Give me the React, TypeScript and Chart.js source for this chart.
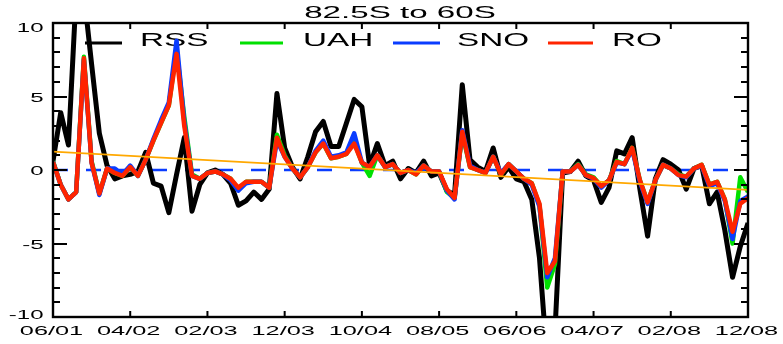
import React, { useEffect, useRef } from 'react';
import { Chart, registerables } from 'chart.js';

Chart.register(...registerables);

const TITLE = '82.5S to 60S';
const seriesNames = ['RSS', 'UAH', 'SNO', 'RO'];
const seriesColors = ['#000000', '#00e000', '#0a3cff', '#ff2400'];

// monthly index 0 = 06/2001 ... 90 = 12/2008
const xTickMonths = [0, 10, 20, 30, 40, 50, 60, 70, 80, 90];
const xTickLabels = ['06/01', '04/02', '02/03', '12/03', '10/04', '08/05', '06/06', '04/07', '02/08', '12/08'];
const yTickLabels = [-10, -5, 0, 5, 10];

const rss = [
  0.6, 3.9, 1.7, 12, 12, 7.2, 2.5, 0.3, -0.6, -0.4,
  -0.3, -0.1, 1.2, -0.9, -1.1, -2.9, -0.3, 2.2, -2.8, -1.0,
  -0.2, 0.0, -0.3, -0.9, -2.4, -2.1, -1.5, -2.0, -1.3, 5.2,
  1.5, 0.2, -0.6, 0.9, 2.6, 3.3, 1.6, 1.6, 3.2, 4.8,
  4.3, 0.3, 1.8, 0.3, 0.6, -0.6, 0.1, -0.2, 0.6, -0.4,
  -0.2, -1.4, -1.7, 5.8, 0.7, 0.2, -0.1, 1.5, -0.5, 0.2,
  -0.6, -0.8, -2.0, -6.0, -13, -11, -0.2, -0.1, 0.6, -0.4,
  -0.7, -2.2, -1.2, 1.3, 1.1, 2.2, -1.3, -4.5, -0.6, 0.7,
  0.4, 0.0, -1.3, 0.1, 0.3, -2.3, -1.5, -4.1, -7.3, -5.2,
  -3.6,
];

const uah = [
  0.6, -1.0, -2.0, -1.5, 7.7, 0.6, -1.6, 0.1, -0.2, -0.4,
  0.2, -0.4, 0.7, 2.0, 3.2, 4.4, 8.2, 3.6, -0.3, -0.6,
  -0.2, -0.1, -0.3, -0.6, -1.3, -0.8, -0.8, -0.8, -1.2, 2.4,
  1.0, 0.1, -0.5, 0.2, 1.2, 1.8, 0.8, 0.9, 1.1, 1.9,
  0.5, -0.4, 1.0, 0.2, 0.4, -0.2, 0.0, -0.3, 0.3, -0.1,
  -0.1, -1.5, -1.9, 2.5, 0.2, 0.0, -0.2, 0.9, -0.3, 0.4,
  -0.1, -0.6, -0.9, -2.4, -8.0, -6.4, -0.1, -0.1, 0.4, -0.3,
  -0.5, -1.1, -0.7, 0.6, 0.4, 1.5, -0.7, -2.2, -0.7, 0.35,
  0.1, -0.3, -0.45, 0.1, 0.35, -1.0, -0.8, -2.0, -5.0, -0.5,
  -1.5,
];

const sno = [
  0.55, -1.0, -2.0, -1.5, 7.5, 0.5, -1.7, 0.1, 0.1, -0.3,
  0.3, -0.4, 0.7, 2.1, 3.4, 4.6, 8.8, 3.3, -0.4, -0.6,
  -0.2, -0.1, -0.3, -0.7, -1.4, -0.9, -0.8, -0.8, -1.2, 2.0,
  0.9, 0.1, -0.5, 0.2, 1.3, 2.0, 0.9, 1.0, 1.2, 2.5,
  0.5, 0.2, 1.0, 0.2, 0.4, -0.2, 0.0, -0.2, 0.3, -0.1,
  -0.1, -1.4, -2.0, 2.7, 0.3, 0.0, -0.2, 0.9, -0.2, 0.4,
  -0.1, -0.6, -1.0, -2.5, -7.3, -6.0, -0.1, -0.1, 0.35, -0.35,
  -0.6, -1.2, -0.7, 0.5, 0.4, 1.4, -0.8, -2.3, -0.7, 0.35,
  0.1, -0.35, -0.5, 0.1, 0.3, -1.1, -0.9, -2.1, -4.7, -2.1,
  -1.8,
];

const ro = [
  0.55, -1.0, -2.0, -1.5, 7.6, 0.5, -1.6, 0.1, -0.2, -0.4,
  0.2, -0.4, 0.7, 2.0, 3.2, 4.4, 7.9, 3.0, -0.4, -0.6,
  -0.2, -0.1, -0.3, -0.6, -1.2, -0.8, -0.8, -0.8, -1.2, 2.2,
  0.9, 0.1, -0.5, 0.2, 1.2, 1.8, 0.8, 0.9, 1.1, 1.8,
  0.5, 0.2, 1.0, 0.2, 0.4, -0.2, 0.0, -0.3, 0.3, -0.1,
  -0.1, -1.3, -1.9, 2.6, 0.2, 0.0, -0.2, 0.9, -0.3, 0.4,
  -0.1, -0.6, -0.9, -2.3, -7.0, -6.2, -0.1, -0.1, 0.35, -0.35,
  -0.55, -1.1, -0.7, 0.55, 0.4, 1.5, -0.7, -2.2, -0.7, 0.35,
  0.1, -0.35, -0.45, 0.1, 0.35, -1.0, -0.8, -2.0, -4.2, -2.3,
  -1.9,
];

const trendEnds = [1.25, -1.35];
const zeroLine = [0, 0];
const xRange = [0, 90];

const FONT = '"Liberation Sans", Arial, Helvetica, sans-serif';

function stretchText(ctx: CanvasRenderingContext2D, text: string, x: number, y: number, size: number, sx: number, align: CanvasTextAlign) {
  ctx.save();
  ctx.font = `${size}px ${FONT}`;
  ctx.textAlign = align;
  ctx.textBaseline = 'alphabetic';
  ctx.fillStyle = '#000';
  ctx.translate(x, y);
  ctx.scale(sx, 1);
  ctx.fillText(text, 0, 0);
  ctx.restore();
}

const idlPlugin = {
  id: 'idlDecor',
  beforeDatasetsDraw(chart: any) {
    const ctx: CanvasRenderingContext2D = chart.ctx;
    stretchText(ctx, TITLE, 400, 18.3, 17, 1.95, 'center');
    const legendLines = [[85, 122], [240, 283], [393, 440], [548, 593]];
    const legendText = [140, 303, 457, 612];
    seriesNames.forEach((name, i) => {
      ctx.save();
      ctx.strokeStyle = seriesColors[i];
      ctx.lineWidth = 3;
      ctx.beginPath();
      ctx.moveTo(legendLines[i][0], 43);
      ctx.lineTo(legendLines[i][1], 43);
      ctx.stroke();
      ctx.restore();
      stretchText(ctx, name, legendText[i], 46, 17.5, 1.9, 'left');
    });
  },
  afterDatasetsDraw(chart: any) {
    const ctx: CanvasRenderingContext2D = chart.ctx;
    const a = chart.chartArea;
    const x = chart.scales.x;
    const y = chart.scales.y;
    ctx.save();
    ctx.strokeStyle = '#000';
    ctx.lineWidth = 2.4;
    ctx.strokeRect(a.left, a.top, a.right - a.left, a.bottom - a.top);
    ctx.lineWidth = 2;
    ctx.beginPath();
    for (let v = -10; v <= 10; v++) {
      const len = v % 5 === 0 ? 14 : 7;
      const py = Math.round(y.getPixelForValue(v));
      ctx.moveTo(a.left, py);
      ctx.lineTo(a.left + len, py);
      ctx.moveTo(a.right, py);
      ctx.lineTo(a.right - len, py);
    }
    xTickMonths.forEach((m) => {
      const px = x.getPixelForValue(m);
      ctx.moveTo(px, a.bottom);
      ctx.lineTo(px, a.bottom - 6);
      ctx.moveTo(px, a.top);
      ctx.lineTo(px, a.top + 6);
    });
    ctx.stroke();
    ctx.restore();

    yTickLabels.forEach((v) => {
      const py = y.getPixelForValue(v);
      const c = Math.min(Math.max(py + 1, a.top + 4.5), a.bottom - 2);
      stretchText(ctx, String(v), 43.5, c + 4.3, 12, 2.0, 'right');
    });
    xTickMonths.forEach((m, i) => {
      const px = x.getPixelForValue(m);
      stretchText(ctx, xTickLabels[i], px - 1.5, 335, 13, 1.95, 'center');
    });
  },
};

export default function App() {
  const ref = useRef<HTMLCanvasElement>(null);
  useEffect(() => {
    document.body.style.margin = '0';
    const toXY = (arr: number[]) => arr.map((v, i) => ({ x: i, y: v }));
    const line = (label: string, data: any[], color: string, width: number, extra: any = {}) => ({
      label,
      data,
      borderColor: color,
      backgroundColor: color,
      borderWidth: width,
      pointRadius: 0,
      tension: 0,
      fill: false,
      clip: 0,
      borderJoinStyle: 'round',
      ...extra,
    });
    const chart = new Chart(ref.current!, {
      type: 'line',
      data: {
        datasets: [
          line('trend', [{ x: xRange[0], y: trendEnds[0] }, { x: xRange[1], y: trendEnds[1] }], '#ffa800', 1.8),
          line('RO', toXY(ro), seriesColors[3], 4.5),
          line('SNO', toXY(sno), seriesColors[2], 4.5),
          line('UAH', toXY(uah), seriesColors[1], 4.5),
          line('RSS', toXY(rss), seriesColors[0], 5),
          line('zero', [{ x: xRange[0], y: zeroLine[0] }, { x: xRange[1], y: zeroLine[1] }], seriesColors[2], 2.5, { borderDash: [15, 18] }),
        ],
      },
      options: {
        animation: false,
        responsive: true,
        maintainAspectRatio: false,
        layout: { padding: { left: 53, right: 35, top: 23, bottom: 27 } },
        plugins: { legend: { display: false }, title: { display: false }, tooltip: { enabled: false } },
        scales: {
          x: { type: 'linear', min: xRange[0], max: xRange[1], display: false },
          y: { type: 'linear', min: -10, max: 10, display: false },
        },
      },
      plugins: [idlPlugin],
    } as any);
    return () => chart.destroy();
  }, []);
  return (
    <div style={{ position: 'relative', width: 783, height: 344, background: '#fff' }}>
      <canvas ref={ref} />
    </div>
  );
}
